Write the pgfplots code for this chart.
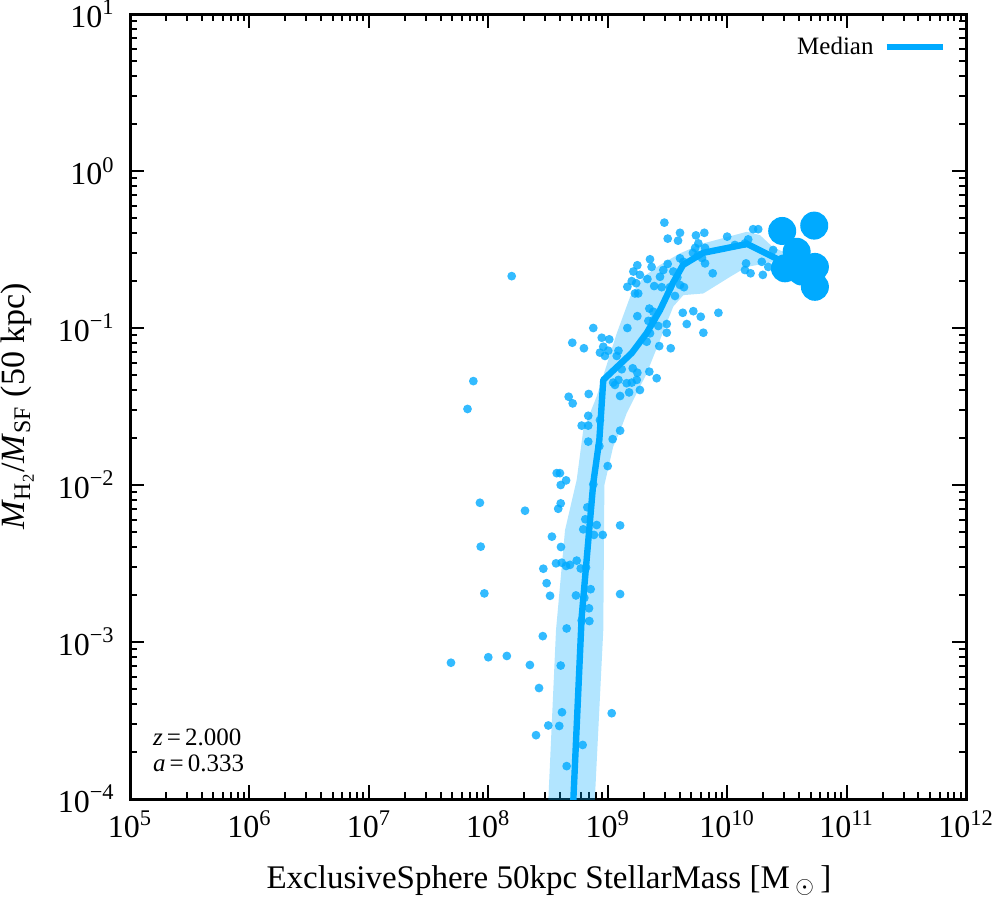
\documentclass[border=0pt]{standalone}
\usepackage{pgfplots}
\pgfplotsset{compat=1.18}
\usepackage{pgfplotstable}
\usepackage{fontspec}
\setmainfont{Liberation Serif}
\definecolor{med}{RGB}{0,170,255}

\pgfplotstableread{
x y
1.57e8 0.214
7.5e7 0.0459
6.7e7 0.0305
2.98e9 0.469
3.18e9 0.371
3.88e9 0.360
4.03e9 0.404
5.48e9 0.389
6.44e9 0.404
5.74e9 0.346
5.4e9 0.324
6.53e9 0.324
5.17e9 0.301
5.7e9 0.292
6.16e9 0.279
1.0e10 0.382
1.16e10 0.338
1.41e10 0.346
1.65e10 0.426
1.82e10 0.426
1.50e10 0.367
2.43e10 0.314
1.44e10 0.258
1.41e10 0.234
1.57e10 0.223
1.99e10 0.218
1.95e10 0.264
2.21e10 0.245
7.57e9 0.223
6.53e9 0.258
4.03e9 0.278
4.30e9 0.264
3.18e9 0.256
2.92e9 0.234
2.74e9 0.212
3.54e9 0.229
3.83e9 0.210
2.26e9 0.274
2.33e9 0.245
1.77e9 0.251
1.64e9 0.229
1.86e9 0.218
2.15e9 0.205
1.59e9 0.199
1.73e9 0.193
1.46e9 0.183
1.69e9 0.166
1.80e9 0.166
2.45e9 0.185
2.83e9 0.182
3.32e9 0.182
4.03e9 0.188
4.35e9 0.182
3.66e9 0.160
4.25e9 0.125
5.21e9 0.128
6.01e9 0.118
4.59e9 0.106
6.32e9 0.0933
8.45e9 0.125
2.23e9 0.133
2.41e9 0.127
1.77e9 0.119
2.19e9 0.111
2.41e9 0.112
2.65e9 0.103
3.12e9 0.106
3.12e9 0.0933
2.26e9 0.0925
2.12e9 0.0818
2.70e9 0.0767
3.37e9 0.0743
1.46e9 0.100
7.57e8 0.100
5.05e8 0.0806
6.32e8 0.0743
8.91e8 0.0867
1.03e9 0.0847
9.18e8 0.0760
8.61e8 0.0697
9.48e8 0.0664
1.01e9 0.0717
1.23e9 0.0717
1.19e9 0.0664
1.31e9 0.0546
1.62e9 0.0554
1.77e9 0.0519
2.23e9 0.0527
2.57e9 0.0479
1.11e9 0.0449
1.23e9 0.0467
1.15e9 0.0434
1.44e9 0.0445
1.59e9 0.0449
1.75e9 0.0467
1.51e9 0.0389
1.86e9 0.0403
1.27e9 0.0369
4.71e8 0.0365
5.09e8 0.0331
6.93e8 0.0380
6.87e8 0.0276
6.05e8 0.0239
6.87e8 0.0239
8.61e8 0.0259
1.27e9 0.0222
1.10e9 0.0196
6.87e8 0.0189
8.51e8 0.0177
1.0e9 0.0132
3.74e8 0.0119
3.98e8 0.0119
4.48e8 0.0107
4.04e8 0.0100
7.57e8 0.0101
8.51e7 7.71e-3
2.03e8 6.86e-3
4.04e8 7.64e-3
3.85e8 7.06e-3
6.75e8 7.21e-3
6.49e8 6.05e-3
8.09e8 5.56e-3
6.24e8 5.22e-3
7.67e8 4.81e-3
9.08e8 4.81e-3
1.27e9 5.53e-3
3.41e8 4.69e-3
4.06e8 4.03e-3
8.64e7 4.05e-3
3.69e8 3.17e-3
4.12e8 3.20e-3
4.48e8 3.05e-3
4.83e8 3.10e-3
5.50e8 3.30e-3
2.89e8 2.93e-3
5.94e8 2.94e-3
6.58e8 2.98e-3
3.08e8 2.37e-3
3.29e8 1.97e-3
5.42e8 1.98e-3
6.37e8 1.91e-3
7.20e8 2.17e-3
6.97e8 1.64e-3
6.05e8 1.37e-3
7.02e8 1.36e-3
1.27e9 2.02e-3
9.27e7 2.04e-3
4.53e8 1.22e-3
2.86e8 1.09e-3
4.87e7 7.38e-4
1.0e8 8.0e-4
1.43e8 8.15e-4
2.23e8 7.14e-4
4.04e8 7.08e-4
2.66e8 5.09e-4
4.14e8 3.57e-4
1.08e9 3.52e-4
3.18e8 2.94e-4
3.93e8 2.92e-4
2.51e8 2.55e-4
6.17e8 2.21e-4
4.53e8 1.62e-4
}\smallpts

\pgfplotstableread{
x y
2.89e10 0.415
5.36e10 0.449
3.82e10 0.306
3.05e10 0.240
4.21e10 0.229
5.43e10 0.245
5.43e10 0.183
}\bigpts

\pgfplotstableread{
x y
5.02e8 6.35e-5
6.05e8 1.44e-3
7.57e8 0.0103
8.51e8 0.0194
9.18e8 0.0467
1.59e9 0.0693
2.12e9 0.0929
2.74e9 0.130
3.52e9 0.194
4.27e9 0.252
6.28e9 0.301
1.47e10 0.343
3.17e10 0.256
}\median

\begin{document}
\begin{tikzpicture}
\begin{axis}[
  at={(0,0)}, anchor=south west,
  scale only axis, width=418pt, height=392.5pt,
  xmode=log, ymode=log,
  xmin=1e5, xmax=1e12, ymin=1e-4, ymax=10,
  xtick={1e5,1e6,1e7,1e8,1e9,1e10,1e11,1e12},
  xticklabels={10\textsuperscript{5},10\textsuperscript{6},10\textsuperscript{7},10\textsuperscript{8},10\textsuperscript{9},10\textsuperscript{10},10\textsuperscript{11},10\textsuperscript{12}},
  ytick={1e-4,1e-3,1e-2,1e-1,1,10},
  yticklabels={10\textsuperscript{−4},10\textsuperscript{−3},10\textsuperscript{−2},10\textsuperscript{−1},10\textsuperscript{0},10\textsuperscript{1}},
  minor xtick={2e5,3e5,4e5,5e5,6e5,7e5,8e5,9e5,2e6,3e6,4e6,5e6,6e6,7e6,8e6,9e6,2e7,3e7,4e7,5e7,6e7,7e7,8e7,9e7,2e8,3e8,4e8,5e8,6e8,7e8,8e8,9e8,2e9,3e9,4e9,5e9,6e9,7e9,8e9,9e9,2e10,3e10,4e10,5e10,6e10,7e10,8e10,9e10,2e11,3e11,4e11,5e11,6e11,7e11,8e11,9e11},
  minor ytick={2e-4,3e-4,4e-4,5e-4,6e-4,7e-4,8e-4,9e-4,2e-3,3e-3,4e-3,5e-3,6e-3,7e-3,8e-3,9e-3,2e-2,3e-2,4e-2,5e-2,6e-2,7e-2,8e-2,9e-2,0.2,0.3,0.4,0.5,0.6,0.7,0.8,0.9,2,3,4,5,6,7,8,9},
  tick align=inside,
  xtick pos=both, ytick pos=both,
  major tick length=7pt, minor tick length=3.5pt,
  tick style={black, line width=1pt},
  axis line style={line width=1.5pt},
  xticklabel style={anchor=base, yshift=-19.35pt, inner sep=0pt, font=\fontsize{16}{19}\selectfont},
  yticklabel style={anchor=east, xshift=-7.5pt, inner sep=0pt, font=\fontsize{16}{19}\selectfont},
  legend plot pos=right,
  legend style={at={(rel axis cs:0.976,0.971)}, anchor=north east, draw=none, fill=none,
    inner sep=0pt, outer sep=0pt, font=\fontsize{12.5}{15}\selectfont,
    nodes={inner sep=0pt}, column sep=5pt},
  legend image code/.code={\draw[#1] (0pt,0pt) -- (28pt,0pt);},
]
\addplot[draw=none, fill=med, fill opacity=0.3, forget plot] coordinates {
(3.10e8,6.35e-5) (3.69e8,1.19e-3) (4.39e8,5.16e-3) (5.50e8,0.0108) (6.24e8,0.0224)
(8.07e8,0.0365) (1.19e9,0.0925) (1.54e9,0.158) (1.99e9,0.212) (2.74e9,0.252)
(4.03e9,0.299) (6.32e9,0.346) (1.46e10,0.410) (1.88e10,0.391) (2.42e10,0.327)
(3.36e10,0.292) (3.36e10,0.218) (2.42e10,0.263) (1.46e10,0.245) (1.06e10,0.212)
(6.32e9,0.166) (4.30e9,0.162) (3.54e9,0.137) (2.74e9,0.0839) (2.12e9,0.0514)
(1.44e9,0.0286) (1.27e9,0.0221) (1.11e9,0.0175) (9.38e8,0.0100) (9.18e8,1.19e-3)
(7.82e8,1.03e-4) (7.74e8,6.35e-5)
} -- cycle;
\addplot[only marks, mark=*, mark size=2.2pt, color=med, mark options={draw opacity=0, fill=med, fill opacity=0.8}, forget plot] table[x=x,y=y] {\smallpts};
\addplot[med, line width=3.2pt, line join=round] table[x=x,y=y] {\median};
\addlegendentry{Median}
\addplot[only marks, mark=*, mark size=7pt, color=med, mark options={draw opacity=0, fill=med}, forget plot] table[x=x,y=y] {\bigpts};
\end{axis}
\node[rotate=90, anchor=base, font=\fontsize{17}{20}\selectfont] at (-52.5pt,196.25pt)
  {\textit{M}\textsubscript{H\textsubscript{2}}/\textit{M}\textsubscript{SF} (50 kpc)};
\node[anchor=base, font=\fontsize{16.5}{19}\selectfont] at (209.5pt,-44.5pt)
  {ExclusiveSphere 50kpc StellarMass [M\,$_{\odot}$\,]};
\node[anchor=base west, font=\fontsize{12.5}{15}\selectfont] at (8pt,27pt) {\textit{z}\,=\,2.000};
\node[anchor=base west, font=\fontsize{12.5}{15}\selectfont] at (8pt,13.65pt) {\textit{a}\,=\,0.333};
\pgfresetboundingbox
\useasboundingbox (-65pt,-50.5pt) rectangle (433pt,399.5pt);
\end{tikzpicture}
\end{document}
